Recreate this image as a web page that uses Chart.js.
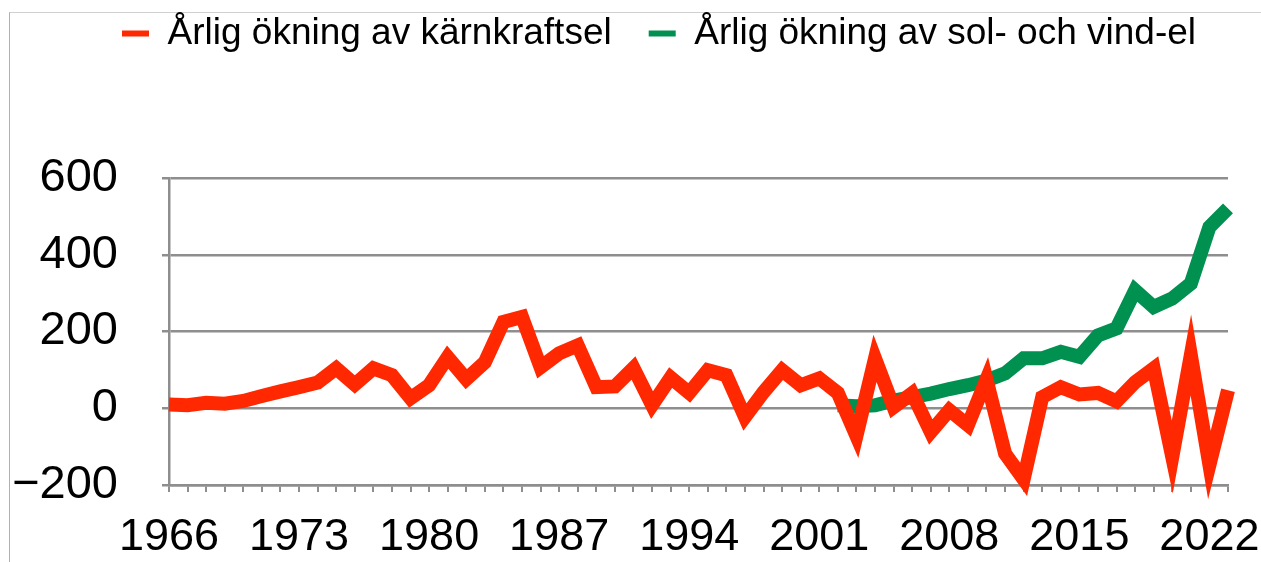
<!DOCTYPE html>
<html>
<head>
<meta charset="utf-8">
<script src="https://cdn.jsdelivr.net/npm/chart.js@4/dist/chart.umd.min.js"></script>
<style>
  html, body { margin: 0; padding: 0; background: #fff; overflow: hidden; }
  #wrap { position: absolute; left: 0; top: 0; width: 1261px; height: 562px; }
  #frame { position: absolute; left: 9px; top: 12px; width: 1260px; height: 560px;
           border-top: 1px solid #d0d0d0; border-left: 1px solid #b0b0b0; }
  canvas { position: absolute; left: 0; top: 0; }
</style>
</head>
<body>
<div id="wrap">
  <div id="frame"></div>
  <canvas id="c" width="1261" height="562"></canvas>
</div>
<script>
const years = ['1966','1967','1968','1969','1970','1971','1972','1973','1974','1975',
  '1976','1977','1978','1979','1980','1981','1982','1983','1984','1985',
  '1986','1987','1988','1989','1990','1991','1992','1993','1994','1995',
  '1996','1997','1998','1999','2000','2001','2002','2003','2004','2005',
  '2006','2007','2008','2009','2010','2011','2012','2013','2014','2015',
  '2016','2017','2018','2019','2020','2021','2022','2023'];

const nuclearIncrease = [10, 8, 14, 12, 19, 32, 44, 55, 67, 104,
  62, 104, 86, 26, 60, 133, 76, 120, 225, 238,
  107, 143, 164, 55, 57, 105, 8, 80, 40, 99,
  86, -23, 42, 99, 60, 78, 40, -72, 130, 3,
  39, -62, -5, -44, 75, -118, -185, 29, 55, 36,
  40, 18, 68, 104, -127, 139, -148, 47];

const solarWindIncrease = [null, null, null, null, null, null, null, null, null, null,
  null, null, null, null, null, null, null, null, null, null,
  null, null, null, null, null, null, null, null, null, null,
  null, null, null, null, null, null, 8, 5, 8, 20,
  29, 38, 50, 60, 72, 91, 130, 130, 147, 134,
  190, 208, 307, 264, 286, 325, 472, 521];

const seriesNames = ['Årlig ökning av kärnkraftsel', 'Årlig ökning av sol- och vind-el'];
const yTickLabels = [-200, 0, 200, 400, 600];

const RED = '#ff2800';
const GREEN = '#00904f';
const GRID = '#8e8e8e';
const FONT = "'Liberation Sans', Arial, Helvetica, sans-serif";

const legendTweak = {
  id: 'legendTweak',
  beforeInit(chart) {
    const orig = chart.legend.fit;
    chart.legend.fit = function () { orig.call(this); this.height = 200; };
  },
  afterLayout(chart) {
    const lg = chart.legend;
    lg.left = 57; lg.right = 1261; lg.width = lg.right - lg.left;
  }
};

new Chart(document.getElementById('c'), {
  type: 'line',
  data: {
    labels: years,
    datasets: [
      { label: seriesNames[0], data: nuclearIncrease, borderColor: RED, backgroundColor: RED,
        borderWidth: 14, pointRadius: 0, tension: 0, borderJoinStyle: 'miter', borderCapStyle: 'butt', clip: false },
      { label: seriesNames[1], data: solarWindIncrease, borderColor: GREEN, backgroundColor: GREEN,
        borderWidth: 14, pointRadius: 0, tension: 0, borderJoinStyle: 'miter', borderCapStyle: 'butt', clip: false, spanGaps: false }
    ]
  },
  options: {
    responsive: false,
    animation: false,
    layout: { padding: { top: -22, left: 10, right: 33, bottom: 0 } },
    plugins: {
      tooltip: { enabled: false },
      legend: {
        display: true,
        position: 'top',
        labels: {
          boxWidth: 27,
          boxHeight: 6,
          padding: 37,
          color: '#000',
          font: { family: FONT, size: 37 },
          generateLabels(chart) {
            const items = Chart.defaults.plugins.legend.labels.generateLabels(chart);
            items.forEach(it => { it.lineWidth = 0; it.fillStyle = chart.data.datasets[it.datasetIndex].borderColor; });
            return items;
          }
        }
      }
    },
    scales: {
      x: {
        type: 'category',
        offset: false,
        afterFit(s) { s.height = 77; },
        grid: { display: true, drawOnChartArea: false, drawTicks: true, tickLength: 7, color: GRID, lineWidth: 2 },
        border: { display: true, color: GRID, width: 2.5 },
        ticks: {
          autoSkip: false, maxRotation: 0, minRotation: 0, padding: 19,
          color: '#000', font: { family: FONT, size: 45 },
          callback(val, idx) { return idx % 7 === 0 ? this.getLabelForValue(val) : ''; }
        }
      },
      y: {
        min: -200, max: 600,
        afterFit(s) { s.width = 159; },
        grid: { display: true, drawOnChartArea: true, drawTicks: true, tickLength: 7, color: GRID, lineWidth: 2.5 },
        border: { display: true, color: GRID, width: 2.5 },
        ticks: {
          stepSize: 100, padding: 44, color: '#000', font: { family: FONT, size: 47 },
          callback(v) {
            if (!yTickLabels.includes(v)) return '';
            return v < 0 ? '\u2212' + Math.abs(v) : String(v);
          }
        }
      }
    }
  },
  plugins: [legendTweak]
});
</script>
</body>
</html>
